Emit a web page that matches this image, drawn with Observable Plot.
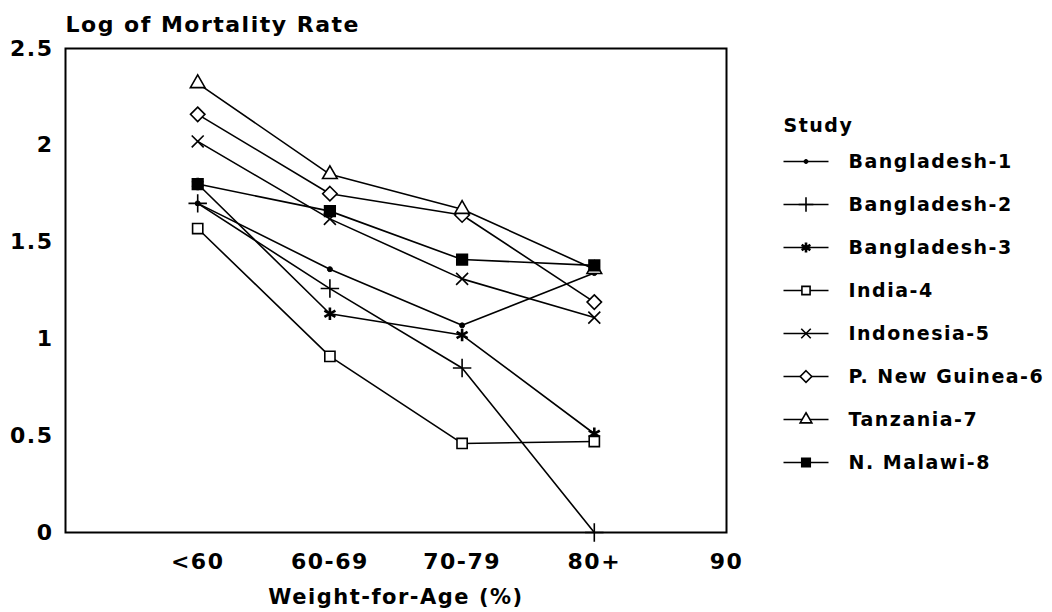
<!DOCTYPE html>
<html>
<head>
<meta charset="utf-8">
<script src="https://cdn.jsdelivr.net/npm/d3@7"></script>
<script src="https://cdn.jsdelivr.net/npm/@observablehq/plot@0.6"></script>
<style>
  html, body { margin: 0; padding: 0; background: white; }
  #wrap { position: relative; width: 1052px; height: 612px; overflow: hidden; }
  #legend { position: absolute; left: 770px; top: 100px; }
</style>
</head>
<body>
<div id="wrap"><div id="main"></div><div id="legend"></div></div>
<script>
// ---- data ----
const categories = ["<60", "60-69", "70-79", "80+"];
const xTickLabels = ["<60", "60-69", "70-79", "80+", "90"];
const yTicks = [0, 0.5, 1, 1.5, 2, 2.5];
const studies = ["Bangladesh-1", "Bangladesh-2", "Bangladesh-3", "India-4",
                 "Indonesia-5", "P. New Guinea-6", "Tanzania-7", "N. Malawi-8"];
const bangladesh1 = [1.70, 1.36, 1.07, 1.34];
const bangladesh2 = [1.70, 1.26, 0.85, 0.00];
const bangladesh3 = [1.80, 1.13, 1.02, 0.51];
const india4      = [1.57, 0.91, 0.46, 0.47];
const indonesia5  = [2.02, 1.62, 1.31, 1.11];
const newGuinea6  = [2.16, 1.75, 1.64, 1.19];
const tanzania7   = [2.32, 1.85, 1.67, 1.36];
const malawi8     = [1.80, 1.66, 1.41, 1.38];
const seriesValues = [bangladesh1, bangladesh2, bangladesh3, india4,
                      indonesia5, newGuinea6, tanzania7, malawi8];

// ---- styles (not data) ----
const markerStyle = {
  "Bangladesh-1":    {symbol: "circle",    fill: "black", r: 2.5, strokeWidth: 1},
  "Bangladesh-2":    {symbol: "plus",      fill: "none",  r: 6,   strokeWidth: 1.6},
  "Bangladesh-3":    {symbol: "asterisk",  fill: "none",  r: 6,   strokeWidth: 2.6},
  "India-4":         {symbol: "square2",   fill: "white", r: 6.5, strokeWidth: 1.6},
  "Indonesia-5":     {symbol: "times",     fill: "none",  r: 5.5, strokeWidth: 1.6},
  "P. New Guinea-6": {symbol: "diamond2",  fill: "white", r: 6.5, strokeWidth: 1.6},
  "Tanzania-7":      {symbol: "triangle2", fill: "white", r: 7,   strokeWidth: 1.6},
  "N. Malawi-8":     {symbol: "square",    fill: "black", r: 6,   strokeWidth: 1.6}
};

const rows = [];
studies.forEach((s, si) => {
  seriesValues[si].forEach((v, ci) => {
    rows.push({study: s, category: categories[ci], pos: ci + 1, value: v});
  });
});

const font = {fontFamily: "'DejaVu Sans', sans-serif", fontWeight: "bold", letterSpacing: "1.5px"};

const dotMarks = studies.map(s => {
  const st = markerStyle[s];
  return Plot.dot(rows.filter(d => d.study === s), {
    x: "pos", y: "value", symbol: st.symbol, r: st.r,
    fill: st.fill, stroke: "black", strokeWidth: st.strokeWidth
  });
});

const main = Plot.plot({
  width: 1052,
  height: 612,
  marginLeft: 65,
  marginRight: 326,
  marginTop: 48,
  marginBottom: 80,
  style: {background: "white", fontSize: "22px", ...font, color: "black"},
  x: {domain: [0, 5], ticks: [1, 2, 3, 4, 5], tickFormat: d => xTickLabels[d - 1],
      tickSize: 0, tickPadding: 21, label: null},
  y: {domain: [0, 2.5], ticks: yTicks, tickFormat: d => String(d),
      tickSize: 0, tickPadding: 12, label: null},
  marks: [
    Plot.frame({stroke: "black", strokeWidth: 2}),
    Plot.line(rows, {x: "pos", y: "value", z: "study", stroke: "black", strokeWidth: 1.6}),
    ...dotMarks,
    Plot.text(["Log of Mortality Rate"], {frameAnchor: "top-left", text: d => d,
      textAnchor: "start", lineAnchor: "middle", dy: -24, fontSize: 22, fill: "black"}),
    Plot.text(["Weight-for-Age (%)"], {frameAnchor: "bottom", text: d => d,
      lineAnchor: "middle", dy: 65, fontSize: 21, fill: "black"})
  ]
});
document.getElementById("main").appendChild(main);

// ---- legend ----
const legendRows = studies.map(s => ({study: s}));
const legendDots = studies.map(s => {
  const st = markerStyle[s];
  return Plot.dot(legendRows.filter(d => d.study === s), {
    x: () => 0.5, y: "study", symbol: st.symbol, r: st.r * 0.8,
    fill: st.fill, stroke: "black", strokeWidth: st.strokeWidth
  });
});
const legend = Plot.plot({
  width: 282,
  height: 380,
  margin: 0,
  style: {background: "transparent", fontSize: "19px", ...font, color: "black"},
  x: {domain: [0, 1], range: [13, 58], axis: null},
  y: {type: "point", domain: studies, range: [59, 363], padding: 0, axis: null},
  marks: [
    Plot.link(legendRows, {x1: () => 0, x2: () => 1, y1: "study", y2: "study",
      stroke: "black", strokeWidth: 1.6}),
    ...legendDots,
    Plot.text(legendRows, {x: () => 1, y: "study", text: "study", textAnchor: "start",
      dx: 20, fill: "black", fontSize: 19}),
    Plot.text(["Study"], {x: () => 0, y: () => studies[0], text: d => d,
      textAnchor: "start", dy: -36, fill: "black", fontSize: 19})
  ]
});
document.getElementById("legend").appendChild(legend);
</script>
</body>
</html>
